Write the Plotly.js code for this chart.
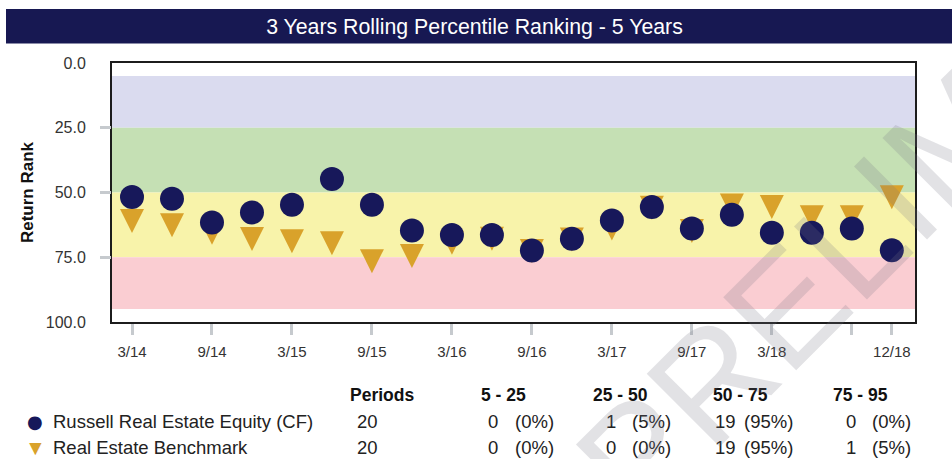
<!DOCTYPE html>
<html><head><meta charset="utf-8">
<script src="https://cdn.plot.ly/plotly-3.0.1.min.js"></script>
<style>html,body{margin:0;padding:0;background:#fff;} #chart{width:952px;height:459px;}</style>
</head><body><div id="chart"></div>
<script>
// ---- data ----
const quarters = ['3/14','6/14','9/14','12/14','3/15','6/15','9/15','12/15','3/16','6/16','9/16','12/16','3/17','6/17','9/17','12/17','3/18','6/18','9/18','12/18'];
const fundRank  = [51.7,52.4,61.6,57.7,54.7,44.8,54.7,64.7,66.4,66.4,72.4,67.9,60.8,55.6,63.9,58.6,65.5,65.5,63.9,72.3];
const benchRank = [61.0,62.6,65.5,68.0,68.8,69.6,76.5,74.5,69.4,67.9,72.6,68.1,63.9,55.9,64.9,55.0,55.6,59.6,59.6,51.8];
const xTickVals = ['3/14','9/14','3/15','9/15','3/16','9/16','3/17','9/17','3/18','9/18','12/18'];
const xTickText = ['3/14','9/14','3/15','9/15','3/16','9/16','3/17','9/17','3/18','','12/18'];
const yTickVals = [0,25,50,75,100];
const yMarkVals = [25,50,75];
const bandEdges = [5,25,50,75,95];
const bandColors = ['#DADBEF','#C5E0B4','#F8F3AA','#FACDD2'];
const seriesNames = ['Russell Real Estate Equity (CF)','Real Estate Benchmark'];
const tableHeaders = ['Periods','5 - 25','25 - 50','50 - 75','75 - 95'];
const periods = ['20','20'];
const fundCounts = ['0','1','19','0'];
const fundPcts = ['(0%)','(5%)','(95%)','(0%)'];
const benchCounts = ['0','0','19','1'];
const benchPcts = ['(0%)','(0%)','(95%)','(5%)'];
const titleText = '3 Years Rolling Percentile Ranking - 5 Years';
const watermark = 'PRELIMINARY';

// ---- styling / layout ----
const FONT = '"Liberation Sans", Arial, Helvetica, sans-serif';
const NAVY = '#17185a';
const GOLD = '#d9a22b';
const W = 952, H = 459;
const M = {l:112, r:37, t:63, b:137};
const PW = W - M.l - M.r, PH = H - M.t - M.b;
const px = x => (x - M.l) / PW;
const py = y => (H - M.b - y) / PH;

const traces = [
  {x: quarters, y: benchRank, type:'scatter', mode:'markers', name: seriesNames[1],
   xaxis:'x', yaxis:'y', hoverinfo:'skip',
   marker:{symbol:'arrow-down', size:24, standoff:12, color:GOLD, line:{width:0}}},
  {x: quarters, y: fundRank, type:'scatter', mode:'markers', name: seriesNames[0],
   xaxis:'x', yaxis:'y2', hoverinfo:'skip',
   marker:{symbol:'circle', size:24, color:NAVY, line:{width:0}}}
];

const shapes = [];
for (let i = 0; i < bandColors.length; i++) {
  shapes.push({type:'rect', xref:'paper', yref:'y', x0:0, x1:1, y0:bandEdges[i], y1:bandEdges[i+1],
    fillcolor:bandColors[i], line:{width:0}, layer:'below'});
}
shapes.push({type:'rect', xref:'paper', yref:'paper', x0:px(6), x1:px(952), y0:py(43.5), y1:py(9),
  fillcolor:'#171852', line:{width:0}, layer:'below'});

const ann = [];
function txt(text, x, y, o) {
  ann.push(Object.assign({text:text, x:px(x), y:py(y), xref:'paper', yref:'paper', showarrow:false,
    xanchor:'center', yanchor:'middle', font:{family:FONT, size:18.5, color:'#222'}}, o || {}));
}
// table header
const headCenters = [381.5, 503.5, 620, 740, 860];
tableHeaders.forEach((h, i) => txt('<b>' + h + '</b>', headCenters[i], 395, {font:{family:FONT, size:17.5, color:'#111'}}));
// rows
const rowY = [421.5, 447.5];
txt('●', 34.5, rowY[0], {font:{family:'"DejaVu Sans", sans-serif', size:18, color:NAVY}});
txt('▼', 35, rowY[1] - 0.5, {font:{family:FONT, size:21, color:GOLD}});
const countRight = [500, 617.5, 738, 858];
const pctRight = [556, 673, 795, 913];
[[fundCounts, fundPcts], [benchCounts, benchPcts]].forEach((row, r) => {
  txt(seriesNames[r], 50.5, rowY[r], {xanchor:'left'});
  txt(periods[r], 380, rowY[r], {xanchor:'right'});
  row[0].forEach((c, i) => txt(c, countRight[i], rowY[r], {xanchor:'right'}));
  row[1].forEach((p, i) => txt(p, pctRight[i], rowY[r], {xanchor:'right'}));
});
// watermark
ann.push({text: watermark, x: px(962), y: py(131), xref:'paper', yref:'paper', showarrow:false,
  xanchor:'center', yanchor:'middle', textangle:-45,
  font:{family:FONT, size:150, color:'rgba(120,120,130,0.21)'}});

const layout = {
  width: W, height: H, autosize:false,
  margin: M,
  paper_bgcolor:'#ffffff', plot_bgcolor:'rgba(0,0,0,0)',
  showlegend:false,
  font:{family:FONT, color:'#333'},
  title:{text: titleText, font:{family:FONT, size:21.3, color:'#ffffff'},
    x: 474.5 / W, xref:'container', xanchor:'center', y: 1 - 26.5 / H, yref:'container', yanchor:'middle'},
  xaxis:{type:'category', categoryorder:'array', categoryarray: quarters, range:[-0.5, 19.58],
    tickmode:'array', tickvals: xTickVals, ticktext: xTickText,
    ticks:'outside', ticklen:11, tickwidth:3, tickcolor:'#c6cace',
    showline:true, mirror:true, linecolor:'#1c1c1c', linewidth:2,
    showgrid:false, zeroline:false, tickfont:{family:FONT, size:15, color:'#333'},
    ticklabelstandoff:4, fixedrange:true},
  yaxis:{range:[100, 0], tickmode:'array', tickvals: yTickVals, tickformat:'.1f',
    ticks:'outside', ticklen:11, tickcolor:'rgba(0,0,0,0)',
    showline:true, mirror:true, linecolor:'#1c1c1c', linewidth:2,
    showgrid:false, zeroline:false, tickfont:{family:FONT, size:16, color:'#333'},
    ticklabelstandoff:10,
    title:{text:'<b>Return Rank</b>', font:{family:FONT, size:17, color:'#111'}, standoff:8},
    fixedrange:true},
  yaxis2:{overlaying:'y', side:'left', range:[100, 0], tickmode:'array', tickvals: yMarkVals,
    ticks:'outside', ticklen:11, tickwidth:3, tickcolor:'#c6cace', showticklabels:false,
    showline:false, showgrid:false, zeroline:false, fixedrange:true},
  shapes: shapes,
  annotations: ann
};

Plotly.newPlot('chart', traces, layout, {displayModeBar:false, staticPlot:true});
</script>
</body></html>
